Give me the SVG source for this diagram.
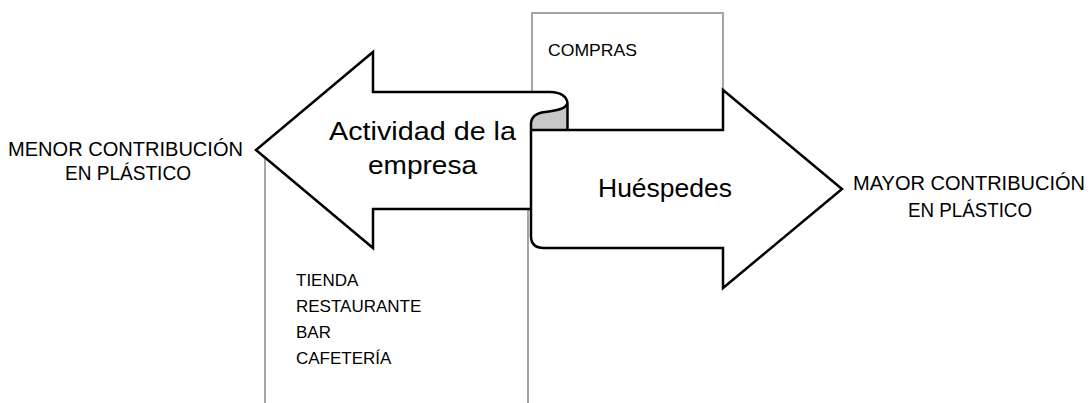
<svg xmlns="http://www.w3.org/2000/svg" width="1091" height="403" viewBox="0 0 1091 403">
<style>
.box{fill:#ffffff;stroke:#a6a6a6;stroke-width:2}
.fillw{fill:#ffffff;stroke:none}
.outline{fill:none;stroke:#000000;stroke-width:2.5;stroke-linejoin:miter;stroke-miterlimit:10}
.curl{fill:#c8c8c8;stroke:none}
.big{font-family:"Liberation Sans",Arial,sans-serif;font-size:26px;fill:#000}
.mid{font-family:"Liberation Sans",Arial,sans-serif;font-size:19.5px;fill:#000}
.small{font-family:"Liberation Sans",Arial,sans-serif;font-size:17px;fill:#000}
</style>
<rect width="1091" height="403" fill="#ffffff"/>
<g id="box-compras">
  <rect class="box" x="532" y="13" width="191" height="125"/>
  <text class="small" x="548" y="56" textLength="89" lengthAdjust="spacingAndGlyphs">COMPRAS</text>
</g>
<g id="box-tienda">
  <rect class="box" x="265" y="150" width="263" height="300"/>
  <text class="small" x="296" y="286">TIENDA</text>
  <text class="small" x="296" y="312">RESTAURANTE</text>
  <text class="small" x="296" y="338">BAR</text>
  <text class="small" x="296" y="364">CAFETERÍA</text>
</g>
<g id="connectors">
  <path class="fillw" d="M 373,92 L 373,52 L 256,150 L 373,248 L 373,209 L 531,209 L 531,130 L 567.5,130 L 567.5,104 C 567.5,97 561,92 550,92 Z"/>
  <path class="fillw" d="M 531,130 L 723,130 L 723,90 L 842,189 L 723,288 L 723,248 L 544,248 Q 531,248 531,236 Z"/>
  <path class="curl" d="M 531,130 L 531,124 C 531,116 537,113 545,112 C 556,110.5 567.5,109 567.5,102 L 567.5,130 Z"/>
  <path class="outline" d="M 531,209 L 373,209 L 373,248 L 256,150 L 373,52 L 373,92 L 550,92 C 561,92 567.5,97 567.5,104 L 567.5,130 L 723,130 L 723,90 L 842,189 L 723,288 L 723,248 L 544,248 Q 531,248 531,236 L 531,124 C 531,116 537,113 545,112 C 556,110.5 567.5,109 567.5,102 M 531,130 L 567.5,130"/>
</g>
<g id="arrow-left">
  <text class="big" x="422.5" y="140" text-anchor="middle" textLength="187" lengthAdjust="spacingAndGlyphs">Actividad de la</text>
  <text class="big" x="422.5" y="174" text-anchor="middle" textLength="109" lengthAdjust="spacingAndGlyphs">empresa</text>
</g>
<g id="arrow-right">
  <text class="big" x="598" y="197" textLength="134" lengthAdjust="spacingAndGlyphs">Huéspedes</text>
</g>
<g id="label-menor">
  <text class="mid" x="8" y="156" textLength="235" lengthAdjust="spacingAndGlyphs">MENOR CONTRIBUCIÓN</text>
  <text class="mid" x="65" y="180" textLength="126" lengthAdjust="spacingAndGlyphs">EN PLÁSTICO</text>
</g>
<g id="label-mayor">
  <text class="mid" x="853" y="190" textLength="232" lengthAdjust="spacingAndGlyphs">MAYOR CONTRIBUCIÓN</text>
  <text class="mid" x="908" y="217" textLength="124" lengthAdjust="spacingAndGlyphs">EN PLÁSTICO</text>
</g>
</svg>
